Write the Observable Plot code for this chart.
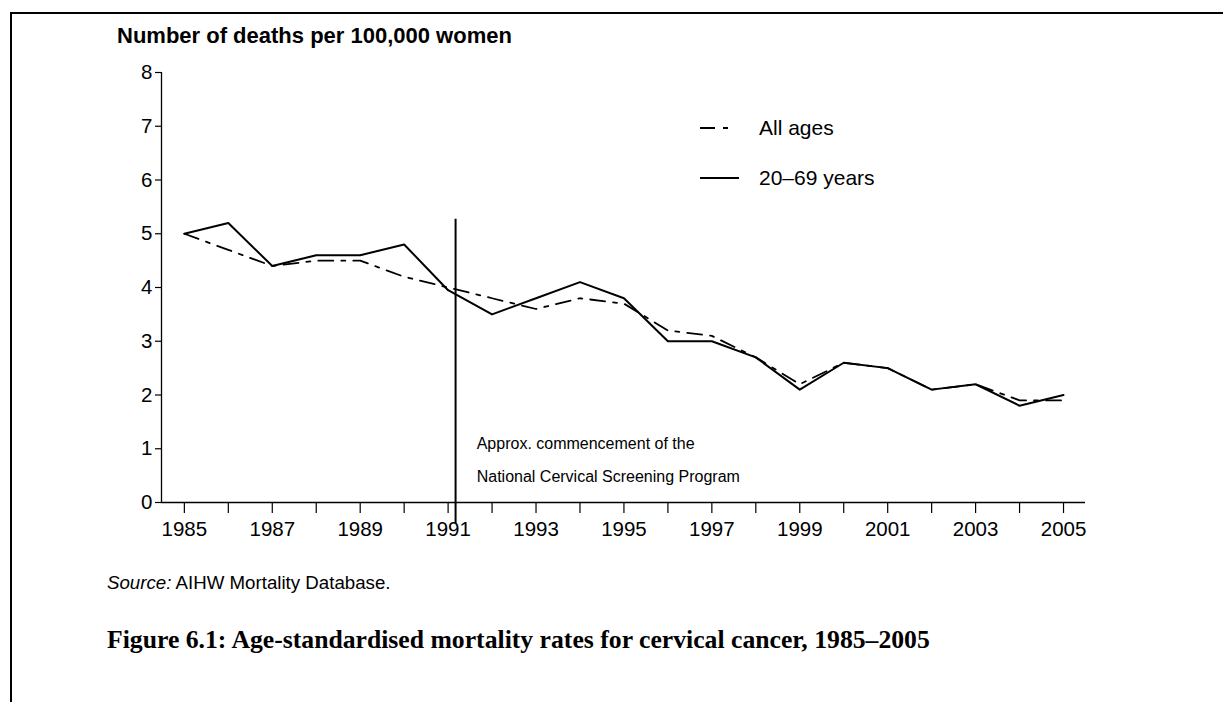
<!DOCTYPE html>
<html>
<head>
<meta charset="utf-8">
<script src="https://cdn.jsdelivr.net/npm/d3@7"></script>
<script src="https://cdn.jsdelivr.net/npm/@observablehq/plot@0.6"></script>
<style>
  body { margin: 0; background: #fff; }
  #wrap { position: relative; width: 1223px; height: 702px; overflow: hidden; background: #fff;
          font-family: "Liberation Sans", Arial, sans-serif; color: #000; }
  #frame { position: absolute; left: 10px; top: 12px; width: 1400px; height: 900px;
           border-top: 2px solid #000; border-left: 2px solid #000; }
  #chart { position: absolute; left: 0; top: 0; }
  .t { position: absolute; white-space: nowrap; line-height: 1; }
  #legend { position: absolute; left: 0; top: 0; }
</style>
</head>
<body>
<div id="wrap">
  <div id="frame"></div>
  <div id="chart"></div>
  <div class="t" id="title" style="left:117px;top:25px;font-weight:bold;font-size:22px;"></div>
  <svg id="legend" width="1223" height="260"></svg>
  <div class="t" id="source" style="left:107px;top:574px;font-size:18.7px;"></div>
  <div class="t" id="caption" style="left:107px;top:627px;font-family:'Liberation Serif',serif;font-weight:bold;font-size:25.7px;"></div>
</div>
<script>
// ---- Data ----
const years = [1985,1986,1987,1988,1989,1990,1991,1992,1993,1994,1995,1996,1997,1998,1999,2000,2001,2002,2003,2004,2005];
const allAges = [5.0,4.7,4.4,4.5,4.5,4.2,4.0,3.8,3.6,3.8,3.7,3.2,3.1,2.7,2.2,2.6,2.5,2.1,2.2,1.9,1.9];
const ages20to69 = [5.0,5.2,4.4,4.6,4.6,4.8,3.95,3.5,3.8,4.1,3.8,3.0,3.0,2.7,2.1,2.6,2.5,2.1,2.2,1.8,2.0];
const seriesNames = ["All ages", "20\u201369 years"];
const yTicks = [0,1,2,3,4,5,6,7,8];
const xLabelYears = [1985,1987,1989,1991,1993,1995,1997,1999,2001,2003,2005];
const screeningYear = 1991.17;
const screeningTop = 5.27;
const annotationLines = ["Approx. commencement of the", "National Cervical Screening Program"];
const titleText = "Number of deaths per 100,000 women";
const captionText = "Figure 6.1: Age-standardised mortality rates for cervical cancer, 1985\u20132005";

// ---- Build tables ----
const allRows = years.map((yr, i) => ({year: yr, value: allAges[i], series: seriesNames[0]}));
const youngRows = years.map((yr, i) => ({year: yr, value: ages20to69[i], series: seriesNames[1]}));
const annRows = annotationLines.map((t, i) => ({text: t, row: i}));

const xMin = 1984.48, xMax = 2005.5;
const dashDot = "15,8,4,8";

const chart = Plot.plot({
  width: 1223,
  height: 560,
  marginLeft: 161,
  marginRight: 138,
  marginTop: 72,
  marginBottom: 58,
  style: {fontFamily: "'Liberation Sans', Arial, sans-serif", fontSize: "20.5px", color: "#000", background: "transparent", overflow: "visible"},
  x: {domain: [xMin, xMax]},
  y: {domain: [0, 8]},
  marks: [
    Plot.axisY({ticks: yTicks, tickSize: 6, tickPadding: 3, tickFormat: d => String(d), label: null, strokeWidth: 1.2}),
    Plot.axisX({ticks: years, tickSize: 11, tickPadding: 8, tickFormat: d => xLabelYears.includes(d) ? String(d) : "", label: null, strokeWidth: 1.2}),
    Plot.ruleY([0], {strokeWidth: 1.3}),
    Plot.ruleX([xMin], {y1: 0, y2: 8, strokeWidth: 1.3}),
    Plot.line(allRows, {x: "year", y: "value", stroke: "#000", strokeWidth: 1.8, strokeDasharray: dashDot}),
    Plot.line(youngRows, {x: "year", y: "value", stroke: "#000", strokeWidth: 2}),
    Plot.ruleX([screeningYear], {y1: -0.39, y2: screeningTop, stroke: "#000", strokeWidth: 2}),
    Plot.text(annRows, {x: () => 1991.65, y: d => d.row === 0 ? 1.1 : 0.48, text: "text", textAnchor: "start", fontSize: 16, fill: "#000"})
  ]
});
document.getElementById("chart").appendChild(chart);

document.getElementById("title").textContent = titleText;
document.getElementById("source").innerHTML = "<i>Source:</i> AIHW Mortality Database.";
document.getElementById("caption").textContent = captionText;

// ---- Legend ----
const leg = d3.select("#legend");
const legendItems = [
  {name: seriesNames[0], y: 128, x2: 728, dash: dashDot},
  {name: seriesNames[1], y: 178, x2: 739, dash: null}
];
legendItems.forEach(it => {
  const ln = leg.append("line").attr("x1", 700).attr("x2", it.x2).attr("y1", it.y).attr("y2", it.y)
    .attr("stroke", "#000").attr("stroke-width", 2);
  if (it.dash) ln.attr("stroke-dasharray", "15,8,5,8");
  leg.append("text").attr("x", 759).attr("y", it.y).attr("dy", "0.35em")
    .attr("font-family", "'Liberation Sans', Arial, sans-serif").attr("font-size", 21)
    .attr("fill", "#000").text(it.name);
});
</script>
</body>
</html>
